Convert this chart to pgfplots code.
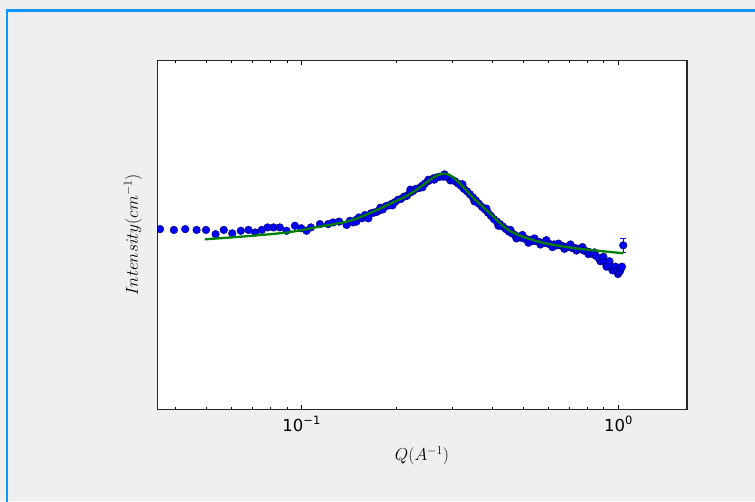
\documentclass[border=0pt]{standalone}
\usepackage{pgfplots}
\pgfplotsset{compat=1.18}
\usepackage{fontspec}
\setmainfont{DejaVu Sans}

\definecolor{winbg}{RGB}{239,239,239}
\definecolor{frameblue}{RGB}{10,150,250}
\definecolor{markedge}{RGB}{0,0,110}
\definecolor{fitgreen}{RGB}{0,128,0}

% measured scattering curve I(Q)
\pgfplotstableread{
q       I
0.0358  5.64
0.0396  5.63
0.0430  5.64
0.0467  5.63
0.0500  5.63
0.0536  5.58
0.0569  5.63
0.0605  5.59
0.0644  5.62
0.0681  5.63
0.0715  5.60
0.0750  5.63
0.0782  5.66
0.0817  5.66
0.0855  5.66
0.0898  5.62
0.0954  5.68
0.0999  5.65
0.1038  5.62
0.1072  5.66
0.1144  5.70
0.1215  5.70
0.1260  5.72
0.1316  5.73
0.1389  5.69
0.1423  5.74
0.1454  5.72
0.1486  5.75
0.1491  5.73
0.1519  5.78
0.1552  5.77
0.1587  5.81
0.1621  5.79
0.1627  5.77
0.1657  5.83
0.1694  5.84
0.1731  5.85
0.1769  5.87
0.1775  5.90
0.1808  5.88
0.1848  5.92
0.1889  5.93
0.1931  5.95
0.1938  5.93
0.1973  5.97
0.2017  6.00
0.2061  6.01
0.2107  6.04
0.2153  6.05
0.2200  6.09
0.2208  6.13
0.2249  6.11
0.2298  6.14
0.2349  6.15
0.2401  6.18
0.2410  6.16
0.2454  6.21
0.2508  6.24
0.2517  6.26
0.2563  6.26
0.2619  6.28
0.2628  6.26
0.2677  6.29
0.2737  6.30
0.2797  6.30
0.2828  6.33
0.2858  6.30
0.2921  6.28
0.2953  6.25
0.2986  6.26
0.3051  6.24
0.3119  6.21
0.3188  6.18
0.3223  6.20
0.3258  6.14
0.3330  6.11
0.3403  6.07
0.3478  6.03
0.3516  5.98
0.3555  5.99
0.3633  5.95
0.3714  5.91
0.3795  5.88
0.3837  5.89
0.3879  5.84
0.3964  5.80
0.4051  5.76
0.4141  5.73
0.4186  5.68
0.4232  5.70
0.4325  5.67
0.4421  5.64
0.4518  5.61
0.4568  5.63
0.4618  5.59
0.4720  5.57
0.4772  5.53
0.4824  5.55
0.4930  5.54
0.4984  5.57
0.5038  5.53
0.5150  5.52
0.5206  5.48
0.5264  5.51
0.5379  5.50
0.5438  5.53
0.5498  5.50
0.5619  5.49
0.5681  5.46
0.5744  5.48
0.5869  5.48
0.5933  5.51
0.5999  5.47
0.6132  5.46
0.6199  5.43
0.6266  5.46
0.6405  5.45
0.6475  5.47
0.6546  5.45
0.6689  5.44
0.6762  5.41
0.6837  5.43
0.6989  5.43
0.7066  5.46
0.7141  5.42
0.7299  5.42
0.7379  5.39
0.7461  5.41
0.7626  5.41
0.7710  5.43
0.7793  5.39
0.7965  5.38
0.8052  5.35
0.8141  5.37
0.8319  5.35
0.8410  5.37
0.8503  5.33
0.8691  5.30
0.8786  5.27
0.8881  5.28
0.8978  5.32
0.9078  5.26
0.9178  5.21
0.9279  5.23
0.9381  5.27
0.9482  5.21
0.9586  5.17
0.9691  5.19
0.9798  5.21
0.9906  5.16
0.9978  5.13
1.0051  5.15
1.0124  5.16
1.0198  5.19
1.0272  5.21
}\measured

% model fit
\pgfplotstableread{
q       I
0.0496  5.52
0.0640  5.55
0.0900  5.60
0.1144  5.67
0.1423  5.74
0.1682  5.85
0.1903  5.95
0.2153  6.05
0.2367  6.16
0.2490  6.23
0.2637  6.30
0.2737  6.33
0.2838  6.34
0.2943  6.32
0.3051  6.27
0.3165  6.21
0.3478  6.03
0.3936  5.83
0.4455  5.64
0.5003  5.55
0.5955  5.47
0.7570  5.41
1.0370  5.36
}\fitcurve

\begin{document}
\begin{tikzpicture}[x=1pt,y=1pt]
\fill[winbg, use as bounding box] (0,0) rectangle (755,501);
\draw[frameblue, line width=2.5pt] (7,-2) -- (7,490.5) -- (757,490.5);

\begin{axis}[
  at={(157.5pt,91.5pt)}, anchor=south west,
  scale only axis, width=529.5pt, height=349pt,
  xmode=log, ymode=log,
  xmin=0.03515, xmax=1.648, ymin=3.855, ymax=8.05,
  clip marker paths=true,
  axis background/.style={fill=white},
  axis line style={line width=1.1pt, black!85},
  xtick={0.1,1},
  xticklabels={10\raisebox{0.45em}{\fontsize{11.5}{12}\selectfont −1}, 10\raisebox{0.45em}{\fontsize{11.5}{12}\selectfont 0}},
  minor xtick={0.04,0.05,0.06,0.07,0.08,0.09,0.2,0.3,0.4,0.5,0.6,0.7,0.8,0.9},
  ytick=\empty,
  minor ytick={4,5,6,7},
  tick align=inside,
  major tick length=5pt, minor tick length=2.8pt,
  every tick/.style={black, line width=0.6pt},
  xticklabel style={font=\fontsize{16.5}{18}\selectfont, yshift=-3pt},
]
\addplot[only marks, mark=*, mark size=3.8pt,
  mark options={fill=blue, draw=markedge, line width=0.5pt}]
  table[x=q, y=I] {\measured};
\addplot[only marks, mark=*, mark size=3.8pt,
  mark options={fill=blue, draw=markedge, line width=0.5pt},
  error bars/.cd, y dir=both, y explicit,
  error bar style={blue, line width=1pt},
  error mark options={rotate=90, mark size=3pt, blue, line width=1pt}]
  coordinates {(1.037,5.45) +- (0,0.085)};
\addplot[fitgreen, line width=2.3pt, smooth] table[x=q, y=I] {\fitcurve};
\end{axis}

\node at (422,45) {\fontsize{16.5}{19}\selectfont $Q(A^{-1})$};
\node[rotate=90] at (133,266) {\fontsize{16.5}{19}\selectfont $Intensity(cm^{-1})$};
\end{tikzpicture}
\end{document}
